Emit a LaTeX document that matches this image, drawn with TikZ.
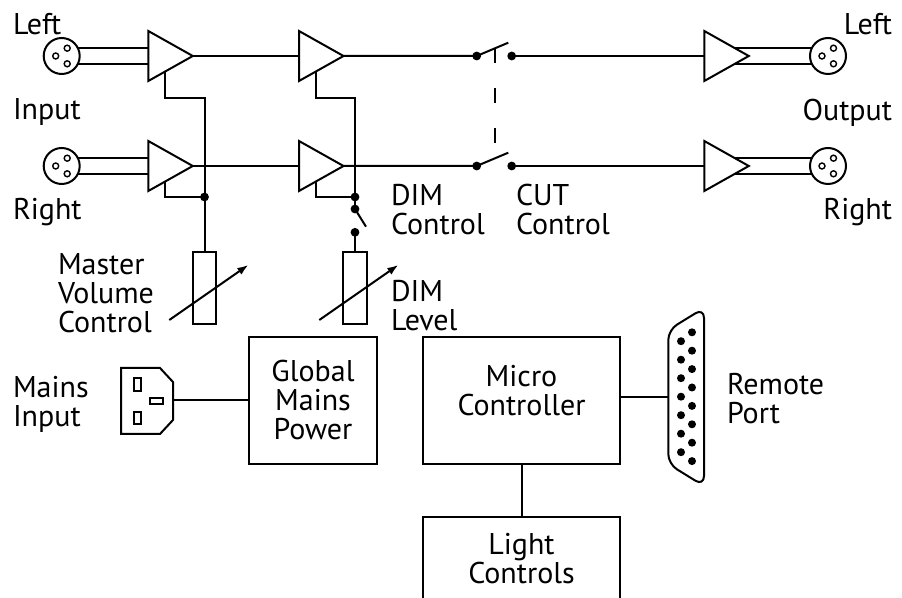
\documentclass[tikz,border=0pt]{standalone}
\usepackage{fontspec}
\setmainfont{PT Sans}
\usetikzlibrary{arrows.meta, calc}

\tikzset{
  wire/.style={line width=1pt},
  box/.style={draw, line width=1pt, align=center, inner sep=0pt},
  pot/.style={draw, line width=1pt, minimum width=11.7pt, minimum height=35.8pt, inner sep=0pt},
  dot/.style={circle, fill, inner sep=0pt, minimum size=4.4pt},
  lbl/.style={inner sep=0pt, align=left},
  adj/.style={line width=1pt, -{Latex[length=5.5pt, width=4pt]}},
  link/.style={line width=1pt, dash pattern=on 7.5pt off 12.5pt},
  % amplifier triangle, base at the origin
  amp/.pic={
    \draw[wire] (0,-25) -- (44.5,0) -- (0,25) -- cycle;
    \coordinate (-in) at (0,0);
    \coordinate (-out) at (44.5,0);
    \coordinate (-fb) at (17,15.5);
    \coordinate (-bu) at (0,-8.3);
    \coordinate (-bd) at (0,8.3);
    \coordinate (-eu) at (29.7,-8.3);
    \coordinate (-ed) at (29.7,8.3);
  },
  % XLR socket
  xlr/.pic={
    \draw[wire] (0,0) circle[radius=18];
    \draw[line width=0.7pt] (-6,0) circle[radius=3];
    \draw[line width=0.7pt] (5.5,-7.8) circle[radius=3];
    \draw[line width=0.7pt] (5.5,7.8) circle[radius=3];
    \coordinate (-u) at (16,-8.3);
    \coordinate (-d) at (16,8.3);
    \coordinate (-ul) at (-16,-8.3);
    \coordinate (-dl) at (-16,8.3);
  }
}

\begin{document}
\begin{tikzpicture}[x=0.5pt, y=-0.5pt, line width=1pt, font=\fontsize{15pt}{14.5pt}\selectfont]
  \clip (0,0) rectangle (902,598);

  % Input sockets and first amplifiers
  \pic (inL) at (61.7,56) {xlr};
  \pic (inR) at (61.7,166) {xlr};
  \pic (aL1) at (148.3,56) {amp};
  \pic (aR1) at (148.3,166) {amp};
  \draw (inL-u) -- (aL1-bu);
  \draw (inL-d) -- (aL1-bd);
  \draw (inR-u) -- (aR1-bu);
  \draw (inR-d) -- (aR1-bd);

  % Second amplifiers
  \pic (aL2) at (299,56) {amp};
  \pic (aR2) at (299,166) {amp};
  \draw (aL1-out) -- (aL2-in);
  \draw (aR1-out) -- (aR2-in);

  % Master volume
  \node[dot] (jM) at (204.5,197) {};
  \coordinate (fbM) at (204.5,97.7);
  \node[pot] (mv) at (204.5,288) {};
  \draw (aL1-fb) |- (fbM) -- (jM.center);
  \draw (aR1-fb) |- (jM.center);
  \draw (jM.center) -- (mv.north);
  \draw[adj] ($(mv)+(-35.2,32)$) -- ($(mv)+(43.8,-23)$);

  % DIM control and level
  \node[dot] (jD) at (355,197) {};
  \node[dot] (dD1) at (355,209) {};
  \node[dot] (dD2) at (355,232.3) {};
  \coordinate (fbD) at (355,97.7);
  \coordinate (dimLev) at (366,226.7);
  \node[pot] (dl) at (355,288) {};
  \draw (aL2-fb) |- (fbD) -- (jD.center);
  \draw (aR2-fb) |- (jD.center);
  \draw (jD.center) -- (dD1.center);
  \draw (dD1.center) -- (dimLev);
  \draw (dD2.center) -- (dl.north);
  \draw[adj] ($(dl)+(-35.7,32)$) -- ($(dl)+(43.3,-23)$);

  % CUT switches
  \node[dot] (sL1) at (476.7,56) {};
  \node[dot] (sL2) at (511.7,56) {};
  \node[dot] (sR1) at (476.7,166) {};
  \node[dot] (sR2) at (511.7,166) {};
  \coordinate (cutL) at (508.3,42.7);
  \coordinate (cutR) at (508.3,152.7);
  \draw (aL2-out) -- (sL1.center) -- (cutL);
  \draw (aR2-out) -- (sR1.center) -- (cutR);
  \draw[link] (495,48.3) -- (495,145);

  % Output amplifiers and sockets
  \pic (aL3) at (704.3,56) {amp};
  \pic (aR3) at (704.3,166) {amp};
  \pic (outL) at (828,56) {xlr};
  \pic (outR) at (828,166) {xlr};
  \draw (sL2.center) -- (aL3-in);
  \draw (sR2.center) -- (aR3-in);
  \draw (aL3-eu) -- (outL-ul);
  \draw (aL3-ed) -- (outL-dl);
  \draw (aR3-eu) -- (outR-ul);
  \draw (aR3-ed) -- (outR-dl);

  % Mains inlet
  \draw (121,368) -- (160,368) -- (173,382) -- (173,420) -- (160,434) -- (121,434) -- cycle;
  \draw (134,378) rectangle (141,391);
  \draw (134,412) rectangle (141,424);
  \draw (150,398) rectangle (163,404);
  \coordinate (iec) at (173,400.5);
  \node[box, minimum width=64pt, minimum height=63.5pt] (gmp) at (313,400.5) {Global\\Mains\\Power};
  \draw (iec) -- (gmp.west);

  % Micro controller, lights, remote port
  \node[box, minimum width=98.5pt, minimum height=63.5pt] (mcu) at (521.5,400.5) {};
  \node[lbl, align=center, anchor=north] (mcuTxt) at (521.5,364) {Micro\\Controller};
  \node[box, minimum width=98.5pt, minimum height=41.5pt] (lc) at (521.5,558.5) {Light\\Controls};
  \draw (mcu.south) -- (lc.north);
  \coordinate (port) at (668.3,396.7);
  \draw (port -| mcu.east) -- (port);
  \draw[rounded corners=5pt] (668.3,330) -- (704,308) -- (704,486) -- (668.3,464) -- cycle;
  \foreach \k in {0,...,7} \fill (692,332.3+18.4*\k) circle[radius=4];
  \foreach \k in {0,...,6} \fill (681,341.2+18.5*\k) circle[radius=4];

  % Labels
  \node[lbl, anchor=north west] (tInL) at (12,12) {Left};
  \node[lbl, anchor=north west] (tIn) at (12,98) {Input};
  \node[lbl, anchor=north west] (tInR) at (12,197) {Right};
  \node[lbl, anchor=north east] (tOutL) at (893,12) {Left};
  \node[lbl, anchor=north east] (tOut) at (893,98) {Output};
  \node[lbl, anchor=north east] (tOutR) at (893,197) {Right};
  \node[lbl, anchor=north west] (tDim) at (390,183) {DIM\\Control};
  \node[lbl, anchor=north west] (tCut) at (515,183) {CUT\\Control};
  \node[lbl, anchor=north west] (tMv) at (57,253) {Master\\Volume\\Control};
  \node[lbl, anchor=north west] (tDl) at (390,279) {DIM\\Level};
  \node[lbl, anchor=north west] (tMains) at (12,375) {Mains\\Input};
  \node[lbl, anchor=north west] (tPort) at (726,372) {Remote\\Port};
\end{tikzpicture}
\end{document}
